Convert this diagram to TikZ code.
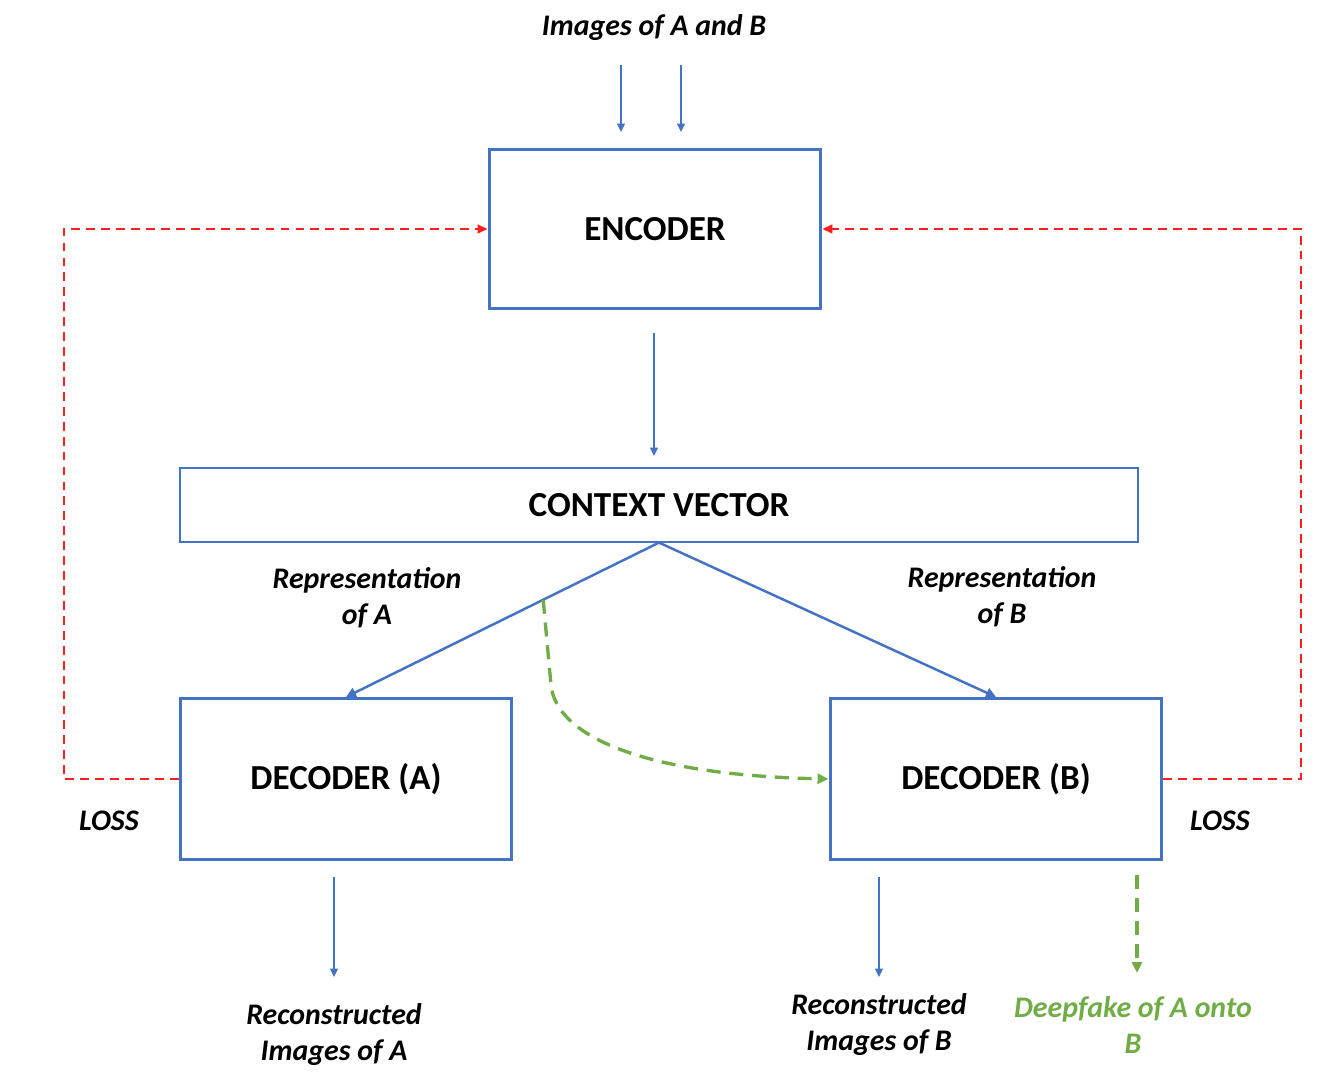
\documentclass[tikz,border=0pt]{standalone}
\usepackage{fontspec}
\setmainfont{Carlito}
\usetikzlibrary{arrows.meta,calc}
\definecolor{boxblue}{HTML}{4472C4}
\definecolor{fakegreen}{HTML}{70AD47}
\definecolor{lossred}{HTML}{FF1F1F}
\tikzset{
	unitbox/.style={draw=boxblue, line width=1.7pt, font=\fontsize{20}{24}\selectfont\bfseries},
	feed/.style={draw=boxblue, line width=0.85pt, -{Triangle[length=0.17cm,width=0.16cm]}},
	branch/.style={draw=boxblue, line width=1.4pt, -{Triangle[length=0.2cm,width=0.2cm]}},
	lossline/.style={draw=lossred, line width=0.9pt, dash pattern=on 5pt off 3.5pt, -{Triangle[length=0.2cm,width=0.18cm]}},
	fakeline/.style={draw=fakegreen, line width=1.9pt, dash pattern=on 8pt off 5pt, -{Triangle[length=0.22cm,width=0.2cm]}},
	caption/.style={font=\fontsize{17}{20.5}\selectfont\bfseries\itshape, align=center}
}

\begin{document}
\begin{tikzpicture}[x=0.02cm, y=-0.02cm]
			%%%%% START %%%%%
			\useasboundingbox (0, 0) rectangle (1330, 1088);
			
			\node[unitbox, minimum width=6.64cm, minimum height=3.2cm] (enc) at (655, 229) {ENCODER};
			\node[unitbox, line width=0.7pt, minimum width=19.16cm, minimum height=1.48cm] (ctx) at (659, 505) {CONTEXT VECTOR};
			\node[unitbox, minimum width=6.64cm, minimum height=3.22cm] (decA) at (346, 779) {DECODER (A)};
			\node[unitbox, minimum width=6.64cm, minimum height=3.22cm] (decB) at (996, 779) {DECODER (B)};
			
			\node[caption] (imgs) at (654, 28) {Images of A and B};
			\node[caption] (repA) at (367, 598) {Representation\\of A};
			\node[caption] (repB) at (1002, 597) {Representation\\of B};
			\node[caption] (lossA) at (109, 821) {LOSS};
			\node[caption] (lossB) at (1220, 821) {LOSS};
			\node[caption] (recA) at (334, 1035) {Reconstructed\\Images of A};
			\node[caption] (recB) at (879, 1025) {Reconstructed\\Images of B};
			\node[caption, text=fakegreen] (fake) at (1133, 1025) {Deepfake of A onto\\B};
			
			\coordinate (inA) at (621, 65);
			\coordinate (inB) at (681, 65);
			\draw[feed] (inA) -- (621, 132);
			\draw[feed] (inB) -- (681, 132);
			\draw[feed] (654, 333) -- (654, 456);
			
			\draw[branch] (ctx.south) -- (decA.north);
			\draw[branch] (ctx.south) -- (decB.north);
			
			\coordinate (fork) at ($(ctx.south)!0.37!(decA.north)$);
			\draw[fakeline] (fork) -- (551, 685) .. controls (556, 735) and (640, 775) .. (decB.west);
			
			\coordinate (cornerL) at (64, 229);
			\coordinate (cornerR) at (1301, 229);
			\draw[lossline] (decA.west) -| (cornerL) -- (enc.west);
			\draw[lossline] (decB.east) -| (cornerR) -- (enc.east);
			
			\draw[feed] (334, 877) -- (334, 977);
			\draw[feed] (879, 877) -- (879, 977);
			\draw[fakeline] (1137, 875) -- (1137, 973);
			
			%%%%% END %%%%%
		\end{tikzpicture}
\end{document}
